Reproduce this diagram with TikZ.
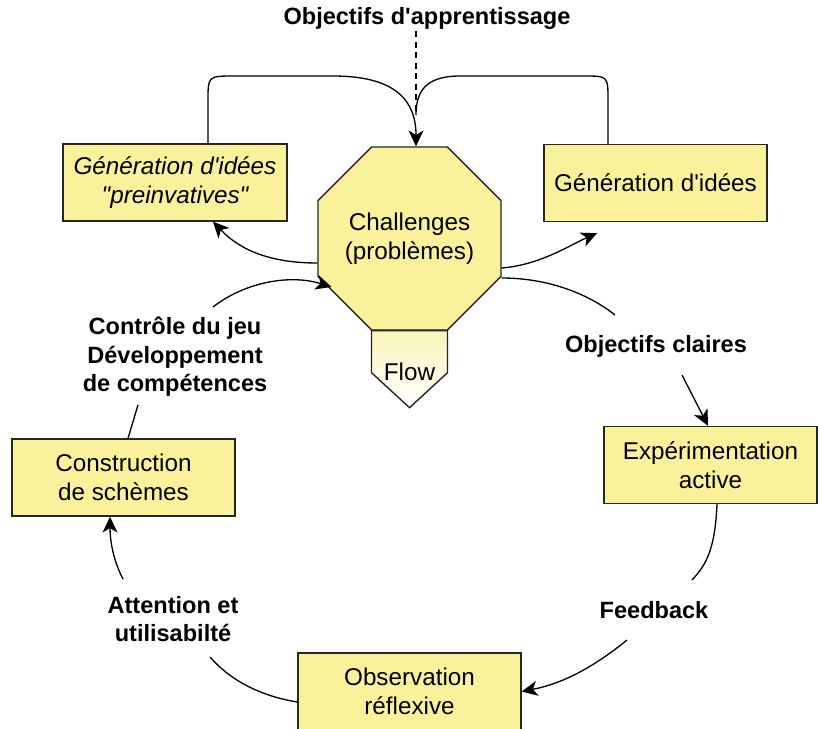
\documentclass[tikz,border=0pt]{standalone}
\usepackage{fontspec}
\setmainfont{Liberation Sans}[Ligatures=TeXOff]
\usetikzlibrary{arrows.meta,shapes.geometric}
\definecolor{boxyellow}{RGB}{250,242,155}
\definecolor{flowtop}{RGB}{250,244,185}
\tikzset{
    box/.style={draw=black!85, fill=boxyellow, line width=0.8pt, align=center,
        minimum width=4.46cm, minimum height=1.54cm, inner sep=0pt,
        font=\fontsize{13.8}{16.4}\selectfont},
    octo/.style={draw=black!85, fill=boxyellow, line width=0.8pt, align=center,
        regular polygon, regular polygon sides=8, minimum size=3.8cm, inner sep=0pt,
        font=\fontsize{13.8}{16.4}\selectfont},
    lbl/.style={align=center, inner sep=1pt, font=\fontsize{13.4}{16.2}\selectfont\bfseries},
    conn/.style={line width=0.75pt},
    arr/.style={conn, -{Stealth[length=9pt,width=8.5pt,inset=2.5pt]}}
}
\begin{document}
\begin{tikzpicture}[x=0.02cm, y=-0.02cm]
        \useasboundingbox (0,0) rectangle (818,728);

        \node[lbl] (objApp) at (427,18) {Objectifs d'apprentissage};
        \node[box, font=\fontsize{13.8}{16.4}\selectfont\itshape, minimum width=4.48cm] (genPre) at (175,182.5) {Génération d'idées\\"preinvatives"};
        \node[box] (genIdees) at (655.5,183) {Génération d'idées};
        \node[octo] (chal) at (409.5,238.5) {Challenges\\(problèmes)};
        \draw[draw=black!85, line width=0.8pt, top color=flowtop, bottom color=white]
            ([xshift=-0.76cm]chal.south) -- ++(76,0) -- ++(0,42) -- ++(-38,35) -- ++(-38,-35) -- cycle;
        \node[font=\fontsize{13.8}{16.4}\selectfont] (flow) at ([yshift=-0.83cm]chal.south) {Flow};
        \node[box] (cons) at (123.5,477.5) {Construction\\de schèmes};
        \node[box, minimum width=4.26cm] (expe) at (710.5,465) {Expérimentation\\active};
        \node[box] (obs) at (409.5,691.5) {Observation\\réflexive};

        \node[lbl] (ctrl) at (175,357) {Contrôle du jeu\\Développement\\de compétences};
        \node[lbl] (objCl) at (656,346) {Objectifs claires};
        \node[lbl] (feed) at (654,610) {Feedback};
        \node[lbl] (att) at (173,619) {Attention et\\utilisabilté};

        \coordinate (dtop) at (416,31);
        \coordinate (join) at (416,115);
        \coordinate (tip) at ([xshift=0.13cm]chal.north);
        \coordinate (ctrlA) at (213,307);
        \coordinate (ctrlB) at (138,405);
        \coordinate (objA) at (615,315);
        \coordinate (objB) at (682,375);
        \coordinate (feedA) at (692,580);
        \coordinate (feedB) at (627,640);
        \coordinate (attA) at (210,657);
        \coordinate (attB) at (123,579);

        \draw[conn, dashed, dash pattern=on 3.5pt off 2.5pt] (dtop) -- (join);
        \draw[arr] ([xshift=0.66cm]genPre.north) -- (208,100) .. controls (208,76) .. (235,76)
            -- (333,76) .. controls (395,76) and (416,100) .. (tip);
        \draw[conn] ([xshift=-0.95cm]genIdees.north) -- (608,100) .. controls (608,76) .. (584,76)
            -- (460,76) .. controls (425,76) and (416,92) .. (join);

        \draw[arr] ([yshift=-0.49cm]chal.west) .. controls (270,263) and (240,250) .. ([xshift=0.76cm]genPre.south);
        \draw[arr] ([yshift=-0.59cm]chal.east) .. controls (540,265) and (570,245) .. ([xshift=-1.17cm,yshift=-0.22cm]genIdees.south);
        \draw[arr] (ctrlA) .. controls (245,282) and (290,274) .. ([xshift=-1.56cm,yshift=-0.97cm]chal.center);
        \draw[conn] ([yshift=-0.79cm]chal.east) .. controls (550,278) and (590,295) .. (objA);
        \draw[arr] (objB) -- ([xshift=-0.05cm]expe.north);
        \draw[conn] ([xshift=0.13cm]expe.south) .. controls (715,550) and (706,565) .. (feedA);
        \draw[arr] (feedB) .. controls (590,670) and (560,684) .. (obs.east);
        \draw[conn] ([yshift=-0.21cm]obs.west) .. controls (260,696) and (230,680) .. (attA);
        \draw[arr] (attB) .. controls (113,560) and (110,540) .. ([xshift=-0.27cm]cons.south);
        \draw[conn] ([xshift=0.09cm]cons.north) -- (ctrlB);
    \end{tikzpicture}
\end{document}
